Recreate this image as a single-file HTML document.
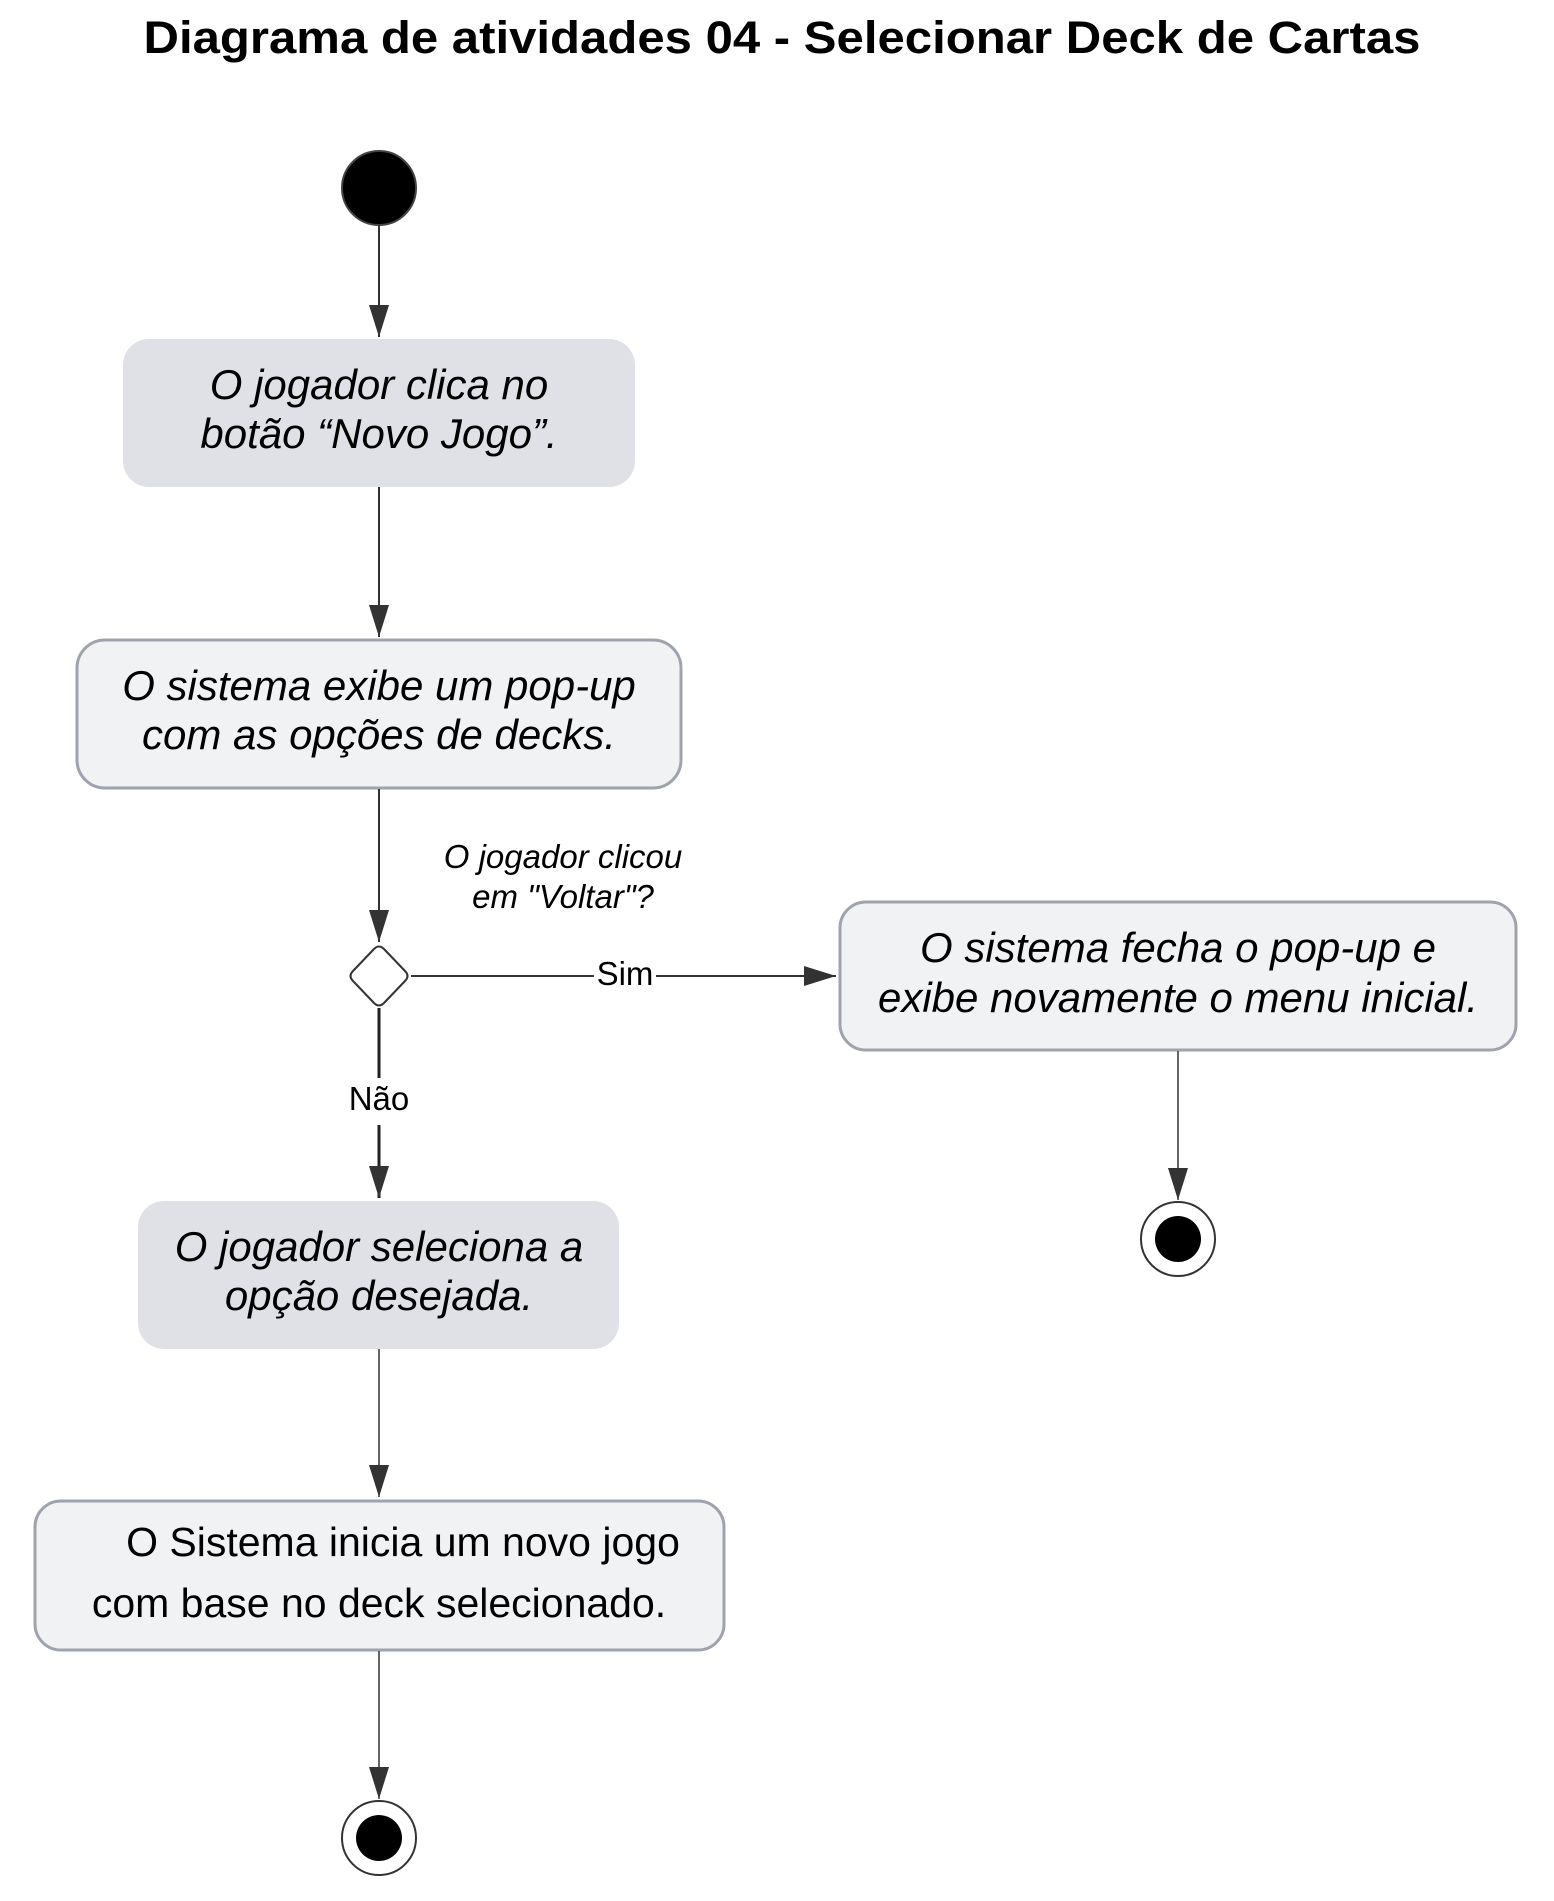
<!DOCTYPE html>
<html><head><meta charset="utf-8"><style>html,body{margin:0;padding:0;background:#fff}svg{display:block}</style></head>
<body>
<svg width="1554" height="1901" viewBox="0 0 1554 1901" xmlns="http://www.w3.org/2000/svg" font-family="Liberation Sans, Arial, sans-serif">
<defs>
<marker id="b" viewBox="0 0 32 20" markerWidth="32" markerHeight="20" refX="32" refY="10" orient="auto" markerUnits="userSpaceOnUse"><path d="M0,0 L32,10 L0,20 Z" fill="#333"/></marker>
</defs>
<text x="782" y="53" text-anchor="middle" font-size="45" font-weight="bold" textLength="1277" lengthAdjust="spacingAndGlyphs">Diagrama de atividades 04 - Selecionar Deck de Cartas</text>

<circle cx="379" cy="188" r="37" fill="#000" stroke="#444" stroke-width="2"/>
<line x1="379" y1="225" x2="379" y2="337" stroke="#333" stroke-width="2" marker-end="url(#b)"/>

<rect x="123" y="339" width="512" height="148" rx="26" fill="#dfe1e6"/>
<g font-size="42" font-style="italic" text-anchor="middle" fill="#000">
<text x="379" y="399">O jogador clica no</text>
<text x="379" y="448">botão “Novo Jogo”.</text>
</g>
<line x1="379" y1="487" x2="379" y2="637" stroke="#333" stroke-width="2" marker-end="url(#b)"/>

<rect x="77" y="640" width="604" height="148" rx="28" fill="#f1f2f4" stroke="#9fa3ad" stroke-width="3"/>
<g font-size="42" font-style="italic" text-anchor="middle">
<text x="379" y="700">O sistema exibe um pop-up</text>
<text x="379" y="749">com as opções de decks.</text>
</g>
<line x1="379" y1="789" x2="379" y2="942" stroke="#333" stroke-width="2" marker-end="url(#b)"/>

<g font-size="33" font-style="italic" text-anchor="middle">
<text x="563" y="868">O jogador clicou</text>
<text x="563" y="908">em "Voltar"?</text>
</g>

<path d="M374,949 Q379,944 384,949 L405,971 Q410,976 405,981 L384,1003 Q379,1008 374,1003 L353,981 Q348,976 353,971 Z" fill="#fff" stroke="#333" stroke-width="2"/>
<line x1="411" y1="976" x2="594" y2="976" stroke="#333" stroke-width="2"/>
<line x1="656" y1="976" x2="836" y2="976" stroke="#333" stroke-width="2" marker-end="url(#b)"/>
<text x="625" y="985" font-size="33" text-anchor="middle">Sim</text>

<rect x="840" y="902" width="676" height="148" rx="26" fill="#f1f2f4" stroke="#9fa3ad" stroke-width="3"/>
<g font-size="42" font-style="italic" text-anchor="middle">
<text x="1178" y="962">O sistema fecha o pop-up e</text>
<text x="1178" y="1012">exibe novamente o menu inicial.</text>
</g>
<line x1="1178" y1="1051" x2="1178" y2="1200" stroke="#333" stroke-width="1.5" marker-end="url(#b)"/>
<circle cx="1178" cy="1239" r="37" fill="#fff" stroke="#333" stroke-width="2"/>
<circle cx="1178" cy="1239" r="23" fill="#000"/>

<line x1="379" y1="1008" x2="379" y2="1078" stroke="#222" stroke-width="3"/>
<line x1="379" y1="1125" x2="379" y2="1198" stroke="#222" stroke-width="3" marker-end="url(#b)"/>
<text x="379" y="1110" font-size="33" text-anchor="middle">Não</text>

<rect x="138" y="1201" width="481" height="148" rx="26" fill="#dfe1e6"/>
<g font-size="42" font-style="italic" text-anchor="middle">
<text x="379" y="1261">O jogador seleciona a</text>
<text x="379" y="1310">opção desejada.</text>
</g>
<line x1="379" y1="1349" x2="379" y2="1497" stroke="#333" stroke-width="1.5" marker-end="url(#b)"/>

<rect x="35" y="1501" width="689" height="149" rx="26" fill="#f1f2f4" stroke="#9fa3ad" stroke-width="3"/>
<g font-size="41" text-anchor="middle">
<text x="403" y="1556">O Sistema inicia um novo jogo</text>
<text x="379" y="1617">com base no deck selecionado.</text>
</g>
<line x1="379" y1="1651" x2="379" y2="1799" stroke="#333" stroke-width="1.5" marker-end="url(#b)"/>
<circle cx="379" cy="1838" r="37" fill="#fff" stroke="#333" stroke-width="2"/>
<circle cx="379" cy="1838" r="23" fill="#000"/>
</svg>
</body></html>
